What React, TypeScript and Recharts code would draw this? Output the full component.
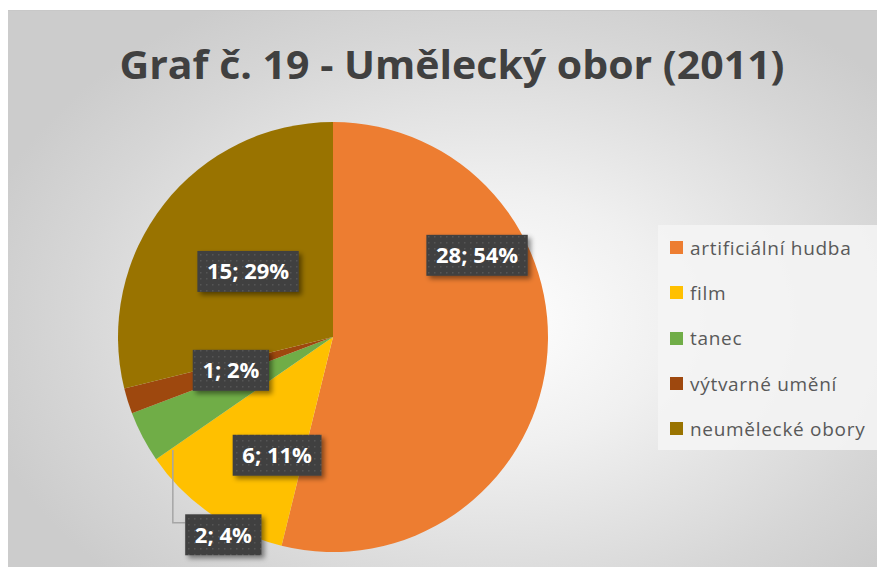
import React from 'react'
import { PieChart, Pie, Cell, Legend } from 'recharts'

const categories = ['artificiální hudba', 'film', 'tanec', 'výtvarné umění', 'neumělecké obory']
const counts = [28, 6, 2, 1, 15]
const percents = [54, 11, 4, 2, 29]
const colors = ['#ED7D31', '#FFC000', '#70AD47', '#9E480E', '#997300']

const data = categories.map((name, i) => ({ name, value: counts[i], pct: percents[i] }))

// label box centres, as fractions of the radius from the pie centre
const labelPos = [
  [0.67, -0.38],
  [-0.26, 0.55],
  [-0.51, 0.92],
  [-0.475, 0.155],
  [-0.395, -0.305],
]

const charW: Record<string, number> = { ';': 0.3, ' ': 0.26, '%': 0.86 }
const textWidth = (s: string, size: number) =>
  s.split('').reduce((w, c) => w + (charW[c] ?? 0.57) * size, 0)

function renderLabel(props: any) {
  const { cx, cy, outerRadius, index } = props
  const d = data[index]
  const text = `${d.value}; ${d.pct}%`
  const [fx, fy] = labelPos[index]
  const x = cx + fx * outerRadius
  const y = cy + fy * outerRadius
  const w = textWidth(text, 22) + 20
  const h = 41
  return (
    <g key={`lbl-${index}`}>
      {index === 2 && (
        <polyline
          points={`${cx - 0.745 * outerRadius},${cy + 0.525 * outerRadius} ${cx - 0.745 * outerRadius},${y - 12} ${x - w / 2},${y - 12}`}
          fill="none"
          stroke="#a6a6a6"
          strokeWidth={1.5}
        />
      )}
      <rect x={x - w / 2} y={y - h / 2} width={w} height={h} fill="url(#dots)" filter="url(#shadow)" />
      <text
        x={x}
        y={y + 8}
        textAnchor="middle"
        fill="#ffffff"
        fontFamily="'Open Sans', sans-serif"
        fontWeight={700}
        fontSize={22}
      >
        {text}
      </text>
    </g>
  )
}

function LegendBox() {
  return (
    <div
      style={{
        background: 'rgba(244,244,244,0.9)',
        width: 224,
        height: 225,
        boxSizing: 'border-box',
        paddingTop: 0,
        fontFamily: "'Open Sans', sans-serif",
      }}
    >
      {categories.map((c, i) => (
        <div key={c} style={{ display: 'flex', alignItems: 'center', height: 45.3, paddingLeft: 12 }}>
          <span style={{ width: 13, height: 13, background: colors[i], marginRight: 7, flexShrink: 0 }} />
          <span style={{ fontSize: 19, letterSpacing: 0.7, color: '#595959', whiteSpace: 'nowrap', lineHeight: '22px' }}>{c}</span>
        </div>
      ))}
    </div>
  )
}

export default function App() {
  return (
    <div style={{ position: 'relative', width: 885, height: 575, margin: -8, background: '#ffffff' }}>
      <div
        style={{
          position: 'absolute',
          left: 6,
          top: 10,
          width: 876,
          height: 564,
          boxSizing: 'border-box',
          border: '1px solid #c8c8c8',
          background: 'radial-gradient(ellipse 60% 65% at 55% 55%, #ffffff 0%, #f0f0f0 35%, #d6d6d6 80%, #cccccc 100%)',
        }}
      />
      <svg style={{ position: 'absolute', left: 0, top: 0 }} width={885} height={575}>
        <text
          x={452}
          y={79}
          textAnchor="middle"
          fill="#404040"
          fontFamily="'Open Sans', sans-serif"
          fontWeight={700}
          fontSize={40}
          textLength={665}
          lengthAdjust="spacingAndGlyphs"
        >
          Graf č. 19 - Umělecký obor (2011)
        </text>
      </svg>
      <div style={{ position: 'absolute', left: 0, top: 0 }}>
        <PieChart width={885} height={575} margin={{ top: 0, right: 0, bottom: 0, left: 0 }}>
          <defs>
            <pattern id="dots" width="6" height="6" patternUnits="userSpaceOnUse">
              <rect width="6" height="6" fill="#404040" />
              <rect x="2" y="2" width="1.5" height="1.5" fill="#555555" />
            </pattern>
            <filter id="shadow" x="-20%" y="-20%" width="150%" height="160%">
              <feDropShadow dx="3" dy="3" stdDeviation="2.5" floodColor="#000000" floodOpacity="0.45" />
            </filter>
          </defs>
          <Pie
            data={data}
            dataKey="value"
            nameKey="name"
            cx={333}
            cy={337}
            outerRadius={215}
            startAngle={90}
            endAngle={-270}
            stroke="none"
            label={renderLabel}
            labelLine={false}
            isAnimationActive={false}
          >
            {data.map((d, i) => (
              <Cell key={d.name} fill={colors[i]} />
            ))}
          </Pie>
          <Legend
            content={() => <LegendBox />}
            wrapperStyle={{ position: 'absolute', left: 658, top: 225, width: 224, height: 225 }}
          />
        </PieChart>
      </div>
    </div>
  )
}
